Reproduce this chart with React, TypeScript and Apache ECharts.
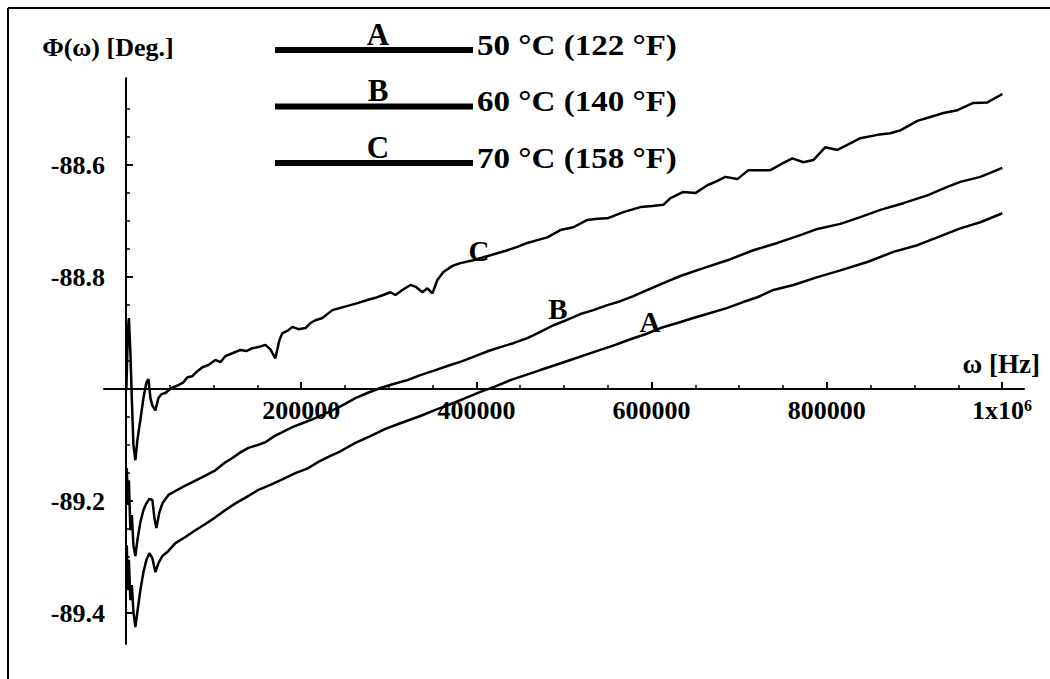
import { useEffect, useRef } from 'react';
import * as echarts from 'echarts';

// ---- data (frequency in Hz, phase in degrees) ----
const curveA: [number, number][] = [
  [1000, -89.279], [2300, -89.359], [3400, -89.305], [5100, -89.377], [6800, -89.35],
  [8600, -89.398], [10800, -89.425], [13100, -89.398], [16500, -89.359], [20000, -89.327],
  [23400, -89.305], [26800, -89.293], [30200, -89.302], [33700, -89.327], [37100, -89.311],
  [41700, -89.298], [48500, -89.289], [56500, -89.275], [67900, -89.264], [79300, -89.252],
  [90700, -89.241], [102100, -89.229], [113600, -89.216], [125000, -89.204], [137500, -89.193],
  [151200, -89.18], [164900, -89.171], [178600, -89.161], [193400, -89.15], [208300, -89.141],
  [219700, -89.13], [231100, -89.121], [244800, -89.111], [261900, -89.096], [279000, -89.084],
  [296100, -89.071], [313200, -89.061], [336100, -89.048], [353200, -89.037], [370300, -89.027],
  [387400, -89.016], [404600, -89.005], [421700, -88.995], [438800, -88.984], [455900, -88.975],
  [473000, -88.966], [490200, -88.957], [507300, -88.948], [524400, -88.939], [541500, -88.93],
  [558600, -88.921], [575800, -88.911], [592900, -88.902], [610000, -88.891], [629400, -88.882],
  [647600, -88.873], [667000, -88.864], [686500, -88.855], [703600, -88.845], [720700, -88.836],
  [739000, -88.823], [761800, -88.814], [789200, -88.8], [815400, -88.788], [846200, -88.773],
  [875900, -88.755], [903300, -88.743], [926100, -88.729], [952300, -88.713], [975200, -88.702],
  [1000300, -88.686],
];

const curveB: [number, number][] = [
  [1000, -89.141], [2300, -89.207], [3400, -89.163], [5100, -89.252], [6800, -89.225],
  [8600, -89.279], [10800, -89.298], [13100, -89.27], [16500, -89.238], [20000, -89.216],
  [23400, -89.204], [26800, -89.196], [30200, -89.198], [32500, -89.23], [34800, -89.248],
  [38200, -89.22], [41700, -89.204], [48500, -89.189], [56500, -89.182], [64500, -89.175],
  [75900, -89.166], [87300, -89.157], [102100, -89.145], [112400, -89.132], [121500, -89.123],
  [130700, -89.113], [139800, -89.105], [150100, -89.1], [159200, -89.095], [169500, -89.084],
  [178600, -89.077], [190000, -89.068], [201400, -89.061], [212800, -89.054], [224300, -89.046],
  [235700, -89.038], [247100, -89.029], [261900, -89.016], [275600, -89.007], [290400, -88.998],
  [305300, -88.991], [321300, -88.984], [336100, -88.975], [353200, -88.966], [370300, -88.957],
  [384000, -88.95], [398800, -88.941], [413700, -88.932], [427400, -88.925], [442200, -88.918],
  [458200, -88.909], [473000, -88.898], [487900, -88.886], [502700, -88.877], [518700, -88.866],
  [533500, -88.859], [549500, -88.85], [564300, -88.843], [579200, -88.834], [595200, -88.823],
  [610000, -88.813], [632800, -88.798], [659100, -88.784], [686500, -88.77], [716100, -88.752],
  [743500, -88.739], [769800, -88.725], [789200, -88.714], [815400, -88.705], [838200, -88.693],
  [861100, -88.68], [887300, -88.668], [914700, -88.654], [937500, -88.639], [952300, -88.63],
  [975200, -88.621], [1000300, -88.605],
];

const curveC: [number, number][] = [
  [500, -89.002], [2300, -88.895], [3400, -88.873], [5100, -88.934], [6800, -89.02],
  [8600, -89.1], [10800, -89.127], [13100, -89.091], [16500, -89.055], [20000, -89.016],
  [23400, -88.988], [25700, -88.982], [28000, -89.016], [30200, -89.029], [33700, -89.038],
  [37100, -89.016], [40500, -89.009], [45100, -89.007], [51900, -88.998], [59900, -88.993],
  [65600, -88.988], [70200, -88.979], [75900, -88.977], [81600, -88.968], [87300, -88.961],
  [94200, -88.957], [102100, -88.948], [107900, -88.952], [113600, -88.941], [121500, -88.936],
  [130700, -88.93], [137500, -88.932], [144400, -88.927], [151200, -88.925], [159200, -88.921],
  [164900, -88.929], [170600, -88.945], [175100, -88.913], [178600, -88.9], [184300, -88.896],
  [190000, -88.889], [196900, -88.893], [204900, -88.891], [210600, -88.882], [216300, -88.877],
  [224300, -88.873], [235700, -88.859], [244800, -88.855], [256200, -88.85], [265300, -88.846],
  [275600, -88.841], [284700, -88.837], [293800, -88.832], [301800, -88.827], [307600, -88.832],
  [315500, -88.823], [324700, -88.814], [331500, -88.818], [338400, -88.827], [344100, -88.82],
  [349800, -88.829], [355500, -88.805], [362400, -88.791], [372700, -88.78], [381700, -88.775],
  [396600, -88.77], [416000, -88.761], [435400, -88.752], [446800, -88.746], [458200, -88.739],
  [469600, -88.734], [481000, -88.729], [495900, -88.716], [510700, -88.711], [526700, -88.698],
  [538100, -88.696], [549500, -88.695], [567800, -88.684], [587200, -88.675], [600900, -88.673],
  [613400, -88.671], [621400, -88.659], [636200, -88.648], [649900, -88.65], [663600, -88.636],
  [673900, -88.629], [684200, -88.621], [697900, -88.625], [710500, -88.609], [723000, -88.609],
  [735600, -88.609], [748200, -88.598], [760700, -88.588], [773300, -88.595], [784600, -88.591],
  [798300, -88.568], [812000, -88.573], [824500, -88.563], [838200, -88.552], [857600, -88.546],
  [872500, -88.543], [883900, -88.538], [903300, -88.521], [918100, -88.514], [933000, -88.507],
  [949000, -88.502], [967200, -88.489], [983200, -88.488], [1000300, -88.473],
];

const xMajorTicks = [200000, 400000, 600000, 800000, 1000000];
const xMinorTicks = [50000, 100000, 150000, 250000, 300000, 350000, 450000, 500000, 550000,
  650000, 700000, 750000, 850000, 900000, 950000];
const yMajorTicks = [-89.4, -89.2, -89.0, -88.8, -88.6];
const yLabelTicks = [-89.4, -89.2, -88.8, -88.6];
const yMinorTicks = [-89.35, -89.3, -89.25, -89.15, -89.1, -89.05, -88.95, -88.9, -88.85,
  -88.75, -88.7, -88.65, -88.55, -88.5];

const seriesLetters = ['A', 'B', 'C'];
const legendLabels = ['50 °C (122 °F)', '60 °C (140 °F)', '70 °C (158 °F)'];
// anchor of the letter written next to each curve (in data units)
const curveLetterAt: [number, number][] = [[598000, -88.881], [493000, -88.8575], [403000, -88.7525]];

const xTitle = 'ω [Hz]';
const yTitle = 'Φ(ω) [Deg.]';

const X_MIN = -25000;
const X_MAX = 1025000;
const Y_MIN = -89.455;
const Y_MAX = -88.445;

const FONT = '"Liberation Serif", "Times New Roman", serif';

export default function App() {
  const ref = useRef<HTMLDivElement>(null);

  useEffect(() => {
    const chart = echarts.init(ref.current!, undefined, { renderer: 'svg' });

    const gl = 104;
    const gw = 920;
    const gt = 78.3;
    const gh = 565.6;
    const zeroX = gl + ((0 - X_MIN) / (X_MAX - X_MIN)) * gw;
    const axisY = gt + ((Y_MAX - -89.0) / (Y_MAX - Y_MIN)) * gh;

    const labelStyle = { color: '#000', fontFamily: FONT, fontWeight: 'bold' as const, fontSize: 26 };

    const hidden = (gridIndex: number, min?: number, max?: number) => ({
      gridIndex, type: 'value', show: false, min, max, splitLine: { show: false },
    });

    const curves = [curveA, curveB, curveC];

    const legendGraphics: any[] = [];
    seriesLetters.forEach((letter, i) => {
      const ly = 50 + i * 56.5;
      legendGraphics.push({
        type: 'line', shape: { x1: 275, y1: ly, x2: 473, y2: ly },
        style: { stroke: '#000', lineWidth: 6 },
      });
      legendGraphics.push({
        type: 'text', x: 378, y: ly - 16,
        style: {
          text: letter, fill: '#000', font: `bold 31px ${FONT}`,
          align: 'center', verticalAlign: 'middle', textAlign: 'center', textVerticalAlign: 'middle',
        },
      });
      legendGraphics.push({
        type: 'text', x: 477, y: ly - 5, scaleX: 1.14,
        style: {
          text: legendLabels[i], fill: '#000', font: `bold 29px ${FONT}`,
          align: 'left', verticalAlign: 'middle', textAlign: 'left', textVerticalAlign: 'middle',
        },
      });
    });

    const gridBase = { outerBoundsMode: 'none', containLabel: false };

    const option: any = {
      animation: false,
      backgroundColor: '#fff',
      grid: [
        { ...gridBase, left: gl, top: gt, width: gw, height: gh },
        { ...gridBase, left: zeroX, top: gt, width: 100, height: gh },
        { ...gridBase, left: zeroX, top: gt, width: 100, height: gh },
        { ...gridBase, left: gl, top: axisY - 100, width: gw, height: 100 },
        { ...gridBase, left: gl, top: axisY - 100, width: gw, height: 100 },
      ],
      xAxis: [
        hidden(0, X_MIN, X_MAX),
        hidden(1, 0, 1),
        hidden(2, 0, 1),
        {
          gridIndex: 3, type: 'value', position: 'bottom', min: X_MIN, max: X_MAX,
          axisLine: { show: true, onZero: false, lineStyle: { color: '#000', width: 2 } },
          axisTick: { show: true, inside: true, length: 7, lineStyle: { color: '#000', width: 2 }, customValues: xMajorTicks },
          axisLabel: {
            show: true, margin: 8, customValues: xMajorTicks, ...labelStyle,
            formatter: (v: number) => (v === 1000000 ? '{b|1x10}{s|6}' : String(v)),
            rich: {
              b: { ...labelStyle, lineHeight: 27 },
              s: { color: '#000', fontFamily: FONT, fontWeight: 'bold', fontSize: 16, verticalAlign: 'top', lineHeight: 27 },
            },
          },
          splitLine: { show: false },
          name: xTitle, nameLocation: 'end', nameGap: 16,
          nameTextStyle: { ...labelStyle, fontSize: 27, align: 'right', verticalAlign: 'bottom', padding: [0, 0, 12, 0] },
        },
        {
          gridIndex: 4, type: 'value', position: 'bottom', min: X_MIN, max: X_MAX,
          axisLine: { show: false, onZero: false },
          axisTick: { show: true, inside: true, length: 4, lineStyle: { color: '#000', width: 1.5 }, customValues: xMinorTicks },
          axisLabel: { show: false },
          splitLine: { show: false },
        },
      ],
      yAxis: [
        hidden(0, Y_MIN, Y_MAX),
        {
          gridIndex: 1, type: 'value', position: 'left', min: Y_MIN, max: Y_MAX,
          axisLine: { show: true, onZero: false, lineStyle: { color: '#000', width: 2 } },
          axisTick: { show: true, inside: true, length: 7, lineStyle: { color: '#000', width: 2 }, customValues: yMajorTicks },
          axisLabel: {
            show: true, margin: 21, customValues: yLabelTicks, ...labelStyle,
            formatter: (v: number) => v.toFixed(1),
          },
          splitLine: { show: false },
          name: yTitle, nameLocation: 'end', nameGap: 31,
          nameTextStyle: { ...labelStyle, fontSize: 26, align: 'center', verticalAlign: 'middle', padding: [0, 36, 0, 0] },
        },
        {
          gridIndex: 2, type: 'value', position: 'left', min: Y_MIN, max: Y_MAX,
          axisLine: { show: false, onZero: false },
          axisTick: { show: true, inside: true, length: 4, lineStyle: { color: '#000', width: 1.5 }, customValues: yMinorTicks },
          axisLabel: { show: false },
          splitLine: { show: false },
        },
        hidden(3, 0, 1),
        hidden(4, 0, 1),
      ],
      series: curves.map((data, i) => ({
        type: 'line',
        name: seriesLetters[i],
        xAxisIndex: 0,
        yAxisIndex: 0,
        data,
        showSymbol: false,
        symbol: 'none',
        lineStyle: { color: '#000', width: 2.5 },
        z: 3,
        markPoint: {
          symbol: 'circle',
          symbolSize: 1,
          itemStyle: { color: 'rgba(0,0,0,0)' },
          label: {
            show: true, position: 'inside', formatter: seriesLetters[i],
            color: '#000', fontFamily: FONT, fontWeight: 'bold', fontSize: 29,
          },
          data: [{ coord: curveLetterAt[i] }],
        },
      })),
      graphic: [
        { type: 'line', shape: { x1: 8, y1: 8, x2: 1050, y2: 8 }, style: { stroke: '#000', lineWidth: 2 } },
        { type: 'line', shape: { x1: 8, y1: 8, x2: 8, y2: 679 }, style: { stroke: '#000', lineWidth: 2 } },
        ...legendGraphics,
      ],
    };

    chart.setOption(option);
    return () => chart.dispose();
  }, []);

  return (
    <div
      ref={ref}
      style={{ position: 'fixed', left: 0, top: 0, width: 1050, height: 679, background: '#fff' }}
    />
  );
}
